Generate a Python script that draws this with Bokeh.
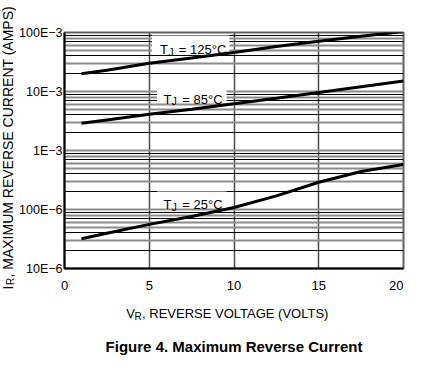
import math
from bokeh.plotting import figure
from bokeh.layouts import row, column
from bokeh.models import (FixedTicker, Grid, Label, CustomJSTickFormatter, Range1d,
                          BoxAnnotation)
from bokeh.embed import file_html
from bokeh.resources import INLINE

# ---- data ----
voltage = [1, 2.5, 5, 7.5, 10, 12.5, 15, 17.5, 20]
ir_125 = [0.020, 0.023, 0.030, 0.037, 0.046, 0.058, 0.071, 0.086, 0.104]
ir_85 = [0.0029, 0.0033, 0.0041, 0.0050, 0.0062, 0.0077, 0.0096, 0.0120, 0.0150]
ir_25 = [3.2e-5, 3.96e-5, 5.6e-5, 7.6e-5, 1.08e-4, 1.70e-4, 2.9e-4, 4.4e-4, 5.8e-4]

curve_temps = ["125°C", "85°C", "25°C"]

x_ticks = [0, 5, 10, 15, 20]
x_tick_labels = ["0", "5", "10", "15", "20"]
y_ticks = [1e-5, 1e-4, 1e-3, 1e-2, 1e-1]
y_tick_labels = ["10E−6", "100E−6", "1E−3", "10E−3", "100E−3"]

x_title = ", REVERSE VOLTAGE (VOLTS)"
y_title = ", MAXIMUM REVERSE CURRENT (AMPS)"
fig_title = "Figure 4. Maximum Reverse Current"

FONT = "Liberation Sans"

# ---- layout (page pixels) ----
W, H = 424, 361
LEFT_W = 16          # strip holding the rotated y title
MAIN_H = 296         # main plot height; strip below holds x title + caption
FL, FR, FT, FB = 62, 403, 32, 268   # plot frame


def text_fig(w, h, xr, yr, **borders):
    f = figure(width=w, height=h, x_range=xr, y_range=yr,
               x_axis_location=None, y_axis_location=None,
               output_backend="svg", toolbar_location=None, **borders)
    f.outline_line_color = None
    f.grid.visible = False
    f.background_fill_color = "white"
    f.border_fill_color = "white"
    return f


def add_text(f, x, y, s, size="13px", angle=0.0, align="left", style="normal",
             baseline="alphabetic"):
    f.add_layout(Label(x=x, y=y, text=s, text_font=FONT, text_font_size=size,
                       text_font_style=style, text_align=align, text_baseline=baseline,
                       text_color="black", angle=angle))


# ---------- main plot ----------
main_w = W - LEFT_W
p = figure(width=main_w, height=MAIN_H, y_axis_type="log",
           x_range=Range1d(x_ticks[0], x_ticks[-1]), y_range=Range1d(y_ticks[0], y_ticks[-1]),
           output_backend="svg", toolbar_location=None,
           min_border_left=FL - LEFT_W, min_border_right=W - FR,
           min_border_top=FT, min_border_bottom=MAIN_H - FB)
p.background_fill_color = "white"
p.border_fill_color = "white"
p.outline_line_color = "#606060"
p.outline_line_width = 2

X0, X1 = x_ticks[0], x_ticks[-1]
LY0, LY1 = math.log10(y_ticks[0]), math.log10(y_ticks[-1])


def dx(px):
    return X0 + (px - FL) * (X1 - X0) / (FR - FL)


def dy(py):
    return 10 ** (LY1 - (py - FT) * (LY1 - LY0) / (FB - FT))


# grids
decades = y_ticks[:-1]
black_mult = [2, 4, 7, 9]
gray_mult = [3, 5, 6, 8]
black_minor = [d * k for d in decades for k in black_mult]
gray_minor = [d * k for d in decades for k in gray_mult]

p.xgrid.ticker = FixedTicker(ticks=x_ticks[1:-1])
p.xgrid.grid_line_color = "#4a4a4a"
p.xgrid.grid_line_width = 1.5

p.ygrid.ticker = FixedTicker(ticks=y_ticks, minor_ticks=gray_minor)
p.ygrid.grid_line_color = "#8c8c8c"
p.ygrid.grid_line_width = 2
p.ygrid.minor_grid_line_color = "#8c8c8c"
p.ygrid.minor_grid_line_width = 2

black_grid = Grid(dimension=1, ticker=FixedTicker(ticks=black_minor),
                  grid_line_color="black", grid_line_width=1)
p.add_layout(black_grid)

# axes
for ax in (p.xaxis[0], p.yaxis[0]):
    ax.axis_line_color = "black"
    ax.axis_line_width = 2
    ax.major_tick_line_color = None
    ax.minor_tick_line_color = None
    ax.major_tick_out = 0
    ax.major_tick_in = 0
    ax.minor_tick_out = 0
    ax.minor_tick_in = 0
    ax.major_label_text_font = FONT
    ax.major_label_text_color = "black"

p.xaxis.major_label_text_font_size = "13px"
p.xaxis.ticker = FixedTicker(ticks=x_ticks)
overrides = {t: l for t, l in zip(x_ticks, x_tick_labels)}
overrides[x_ticks[-1]] = x_tick_labels[-1] + "\u00a0" * 4
p.xaxis.major_label_overrides = overrides
p.xaxis.major_label_standoff = 9

p.yaxis.major_label_text_font_size = "12.5px"
p.yaxis.ticker = FixedTicker(ticks=y_ticks)
p.yaxis.formatter = CustomJSTickFormatter(args=dict(tvals=y_ticks, tlabels=y_tick_labels), code="""
let best = 0, bd = Infinity;
for (let i = 0; i < tvals.length; i++) {
  const d = Math.abs(Math.log10(tvals[i]) - Math.log10(tick));
  if (d < bd) { bd = d; best = i; }
}
return tlabels[best];
""")
p.yaxis.major_label_standoff = 2

# white boxes behind the curve labels
boxes = [(150, 228, 35, 54), (155, 225, 86.5, 101.5), (155, 225, 191, 206)]
for l, r, t, b in boxes:
    p.add_layout(BoxAnnotation(left=dx(l), right=dx(r), top=dy(t), bottom=dy(b),
                               fill_color="white", fill_alpha=1.0, line_color=None,
                               level="underlay"))

# curves
for series in (ir_125, ir_85, ir_25):
    p.line(voltage, series, line_width=3, line_color="black")

# curve labels  T_J = ...  (origin of "T" in page pixels)
label_origins = [(158, 49), (161.5, 98.5), (161.5, 204)]
for temp, (ox, oy) in zip(curve_temps, label_origins):
    add_text(p, dx(ox), dy(oy), "T")
    add_text(p, dx(ox + 8.5), dy(oy + 2.5), "J", size="10px")
    add_text(p, dx(ox + 19), dy(oy), "= " + temp)

# ---------- left strip: rotated y title (data units = page pixels), centred pieces ----------
yt = text_fig(LEFT_W, H, Range1d(0, LEFT_W), Range1d(H, 0), min_border=0)
YC = 7.8
add_text(yt, YC, 287, "I", size="14px", angle=math.pi / 2, align="center", baseline="middle")
add_text(yt, YC + 2.5, 281, "R", size="10px", angle=math.pi / 2, align="center", baseline="middle")
add_text(yt, YC, 141.3, y_title, size="14px", angle=math.pi / 2, align="center", baseline="middle")

# ---------- bottom strip: x title + caption (frame aligned with the plot frame) ----------
BH = H - MAIN_H
bt = text_fig(main_w, BH, Range1d(FL, FR), Range1d(BH, 0),
              min_border_left=FL - LEFT_W, min_border_right=W - FR,
              min_border_top=0, min_border_bottom=0)
add_text(bt, 124, 313 - MAIN_H, "V")
add_text(bt, 132.5, 316 - MAIN_H, "R", size="10px")
add_text(bt, 140, 313 - MAIN_H, x_title)
add_text(bt, (FL + FR) / 2, 346 - MAIN_H, fig_title, size="15px", align="center", style="bold")

layout = row(yt, column(p, bt))
open("out.html", "w").write(file_html(layout, INLINE))
